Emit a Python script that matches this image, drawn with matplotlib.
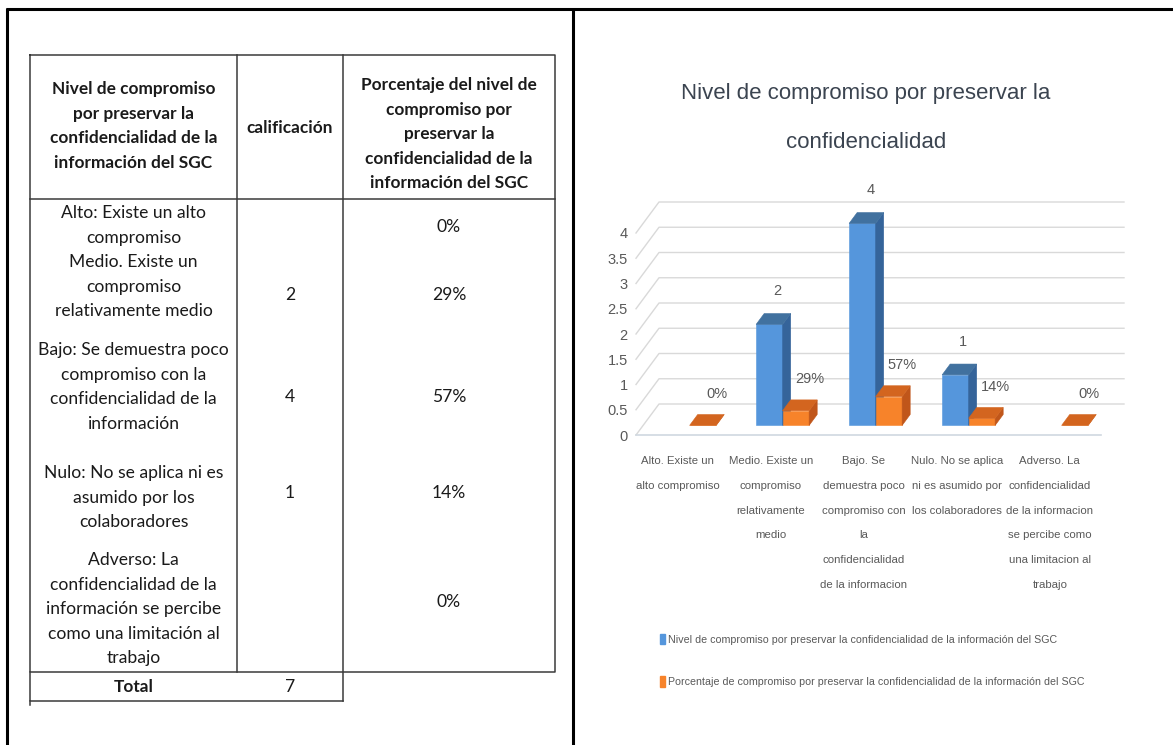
import matplotlib.pyplot as plt
from matplotlib.patches import Polygon, Patch
from matplotlib.transforms import blended_transform_factory

# ---- table contents ----
header_level = ['Nivel de compromiso', 'por preservar la',
                'confidencialidad de la', 'información del SGC']
header_score = 'calificación'
header_pct = ['Porcentaje del nivel de', 'compromiso por', 'preservar la',
              'confidencialidad de la', 'información del SGC']
levels_table = [
    ['Alto: Existe un alto', 'compromiso'],
    ['Medio. Existe un', 'compromiso', 'relativamente medio'],
    ['Bajo: Se demuestra poco', 'compromiso con la',
     'confidencialidad de la', 'información'],
    ['Nulo: No se aplica ni es', 'asumido por los', 'colaboradores'],
    ['Adverso: La', 'confidencialidad de la', 'información se percibe',
     'como una limitación al', 'trabajo'],
]
scores = [None, 2, 4, 1, None]
pct = [0.0, 0.29, 0.57, 0.14, 0.0]
total = 7

# ---- chart contents ----
title_lines = ['Nivel de compromiso por preservar la', 'confidencialidad']
categories = [
    'Alto. Existe un\nalto compromiso',
    'Medio. Existe un\ncompromiso\nrelativamente\nmedio',
    'Bajo. Se\ndemuestra poco\ncompromiso con\nla\nconfidencialidad\nde la informacion',
    'Nulo. No se aplica\nni es asumido por\nlos colaboradores',
    'Adverso. La\nconfidencialidad\nde la informacion\nse percibe como\nuna limitacion al\ntrabajo',
]
series_names = [
    'Nivel de compromiso por preservar la confidencialidad de la información del SGC',
    'Porcentaje de compromiso por preservar la confidencialidad de la información del SGC',
]
y_ticks = [0, 0.5, 1, 1.5, 2, 2.5, 3, 3.5, 4]

W, H = 1173, 745
NARROW = ['Liberation Sans', 'DejaVu Sans']
BODY = ['Lato', 'DejaVu Sans']
GREY = '#595959'

fig = plt.figure(figsize=(W / 100, H / 100), dpi=100)
fig.patch.set_facecolor('white')

# page layer in pixel units (origin top-left)
page = fig.add_axes([0, 0, 1, 1])
page.set_xlim(0, W)
page.set_ylim(H, 0)
page.axis('off')

frame = dict(color='black', lw=2.2, solid_capstyle='butt')
page.plot([6, W], [9, 9], **frame)
page.plot([7, 7], [8, H], **frame)
page.plot([573, 573], [8, H], **frame)

# table grid
tl = dict(color='#3a3a3a', lw=1.1)
t_left, t_right, t_top, t_head, t_body, t_total = 30, 555, 55, 199, 672, 701
c1, c2 = 237, 343
page.plot([t_left, t_right, t_right, t_left, t_left],
          [t_top, t_top, t_body, t_body, t_top], **tl)
page.plot([c1, c1], [t_top, t_body], **tl)
page.plot([c2, c2], [t_top, t_total], **tl)
page.plot([t_left, t_right], [t_head, t_head], **tl)
page.plot([t_left, t_left, c2], [t_body, t_total, t_total], **tl)
page.plot([t_left, t_left], [t_total, t_total + 4], **tl)

col_x = [(t_left + c1) / 2, (c1 + c2) / 2, (c2 + t_right) / 2]
step = 24.6
txt = dict(ha='center', va='center', family=BODY, fontsize=12.6, color='#1a1a1a')
bold = dict(txt, fontsize=12.4, fontweight='bold')

for k, line in enumerate(header_level):
    page.text(col_x[0], 89 + k * step, line, **bold)
page.text(col_x[1], 128, header_score, **bold)
for k, line in enumerate(header_pct):
    page.text(col_x[2], 85 + k * step, line, **bold)

level_top = [213, 262, 350, 473, 560]
value_y = [227, 295, 397, 493, 602]
for lines, y0, yv, s, p in zip(levels_table, level_top, value_y, scores, pct):
    for k, line in enumerate(lines):
        page.text(col_x[0], y0 + k * step, line, **txt)
    if s is not None:
        page.text(col_x[1], yv, f'{s}', **txt)
    page.text(col_x[2], yv, f'{round(p * 100)}%', **txt)

page.text(col_x[0], 687, 'Total', **bold)
page.text(col_x[1], 687, f'{total}', **txt)

# ---- 3D-look clustered column chart ----
X0, Y0 = 636, 435          # pixel position of data origin on the front plane
SX, SY = 93, 50.5          # pixels per category / per unit
xlim, ylim = (-0.7, 5.6), (-0.5, 5.2)
left, right = X0 + xlim[0] * SX, X0 + xlim[1] * SX
top, bottom = Y0 - ylim[1] * SY, Y0 - ylim[0] * SY
ax = fig.add_axes([left / W, 1 - bottom / H, (right - left) / W, (bottom - top) / H])
ax.set_xlim(*xlim)
ax.set_ylim(*ylim)
ax.patch.set_alpha(0)

DX, DY = 23 / SX, 31 / SY   # offset of the back wall
D0, D1 = 0.31, 0.66         # depth slice occupied by the columns
BW = 0.285                  # column width in category units


def P(x, y, d):
    return (x + d * DX, y + d * DY)


n = len(categories)
grid = dict(color='#d9d9d9', lw=1.0, zorder=1)
for v in y_ticks:
    pts = [P(0, v, 0), P(0, v, 1), P(n, v, 1)]
    ax.plot([p[0] for p in pts], [p[1] for p in pts], **grid)
ax.plot([P(0, 0, 0)[0], P(n, 0, 0)[0]], [0, 0], color='#d0d8e0', lw=1.2, zorder=1)


def column(x0, x1, h, front, side, topc):
    faces = [
        ([P(x0, 0, D0), P(x1, 0, D0), P(x1, h, D0), P(x0, h, D0)], front),
        ([P(x1, 0, D0), P(x1, 0, D1), P(x1, h, D1), P(x1, h, D0)], side),
        ([P(x0, h, D0), P(x1, h, D0), P(x1, h, D1), P(x0, h, D1)], topc),
    ]
    for pts, c in faces:
        ax.add_patch(Polygon(pts, closed=True, facecolor=c, edgecolor=c,
                             lw=0.4, zorder=3))


blue = ('#5596dc', '#35649a', '#41719f')
orange = ('#f7832a', '#c0561a', '#d3651f')
lab = dict(ha='center', va='center', family=NARROW, fontsize=10.5, color=GREY)

for i, (s, p) in enumerate(zip(scores, pct)):
    cx = i + 0.5
    if s is not None:
        column(cx - BW, cx, s, *blue)
        ax.annotate(f'{s}', P(cx - BW / 2, s, D1), xytext=(0, 16),
                    textcoords='offset points', zorder=5, **lab)
    column(cx, cx + BW, p, *orange)
    ax.annotate(f'{round(p * 100)}%', P(cx + BW / 2, p, D1), xytext=(4, 15),
                textcoords='offset points', zorder=5, **lab)

# value axis labels sit on the front edge of the side wall
ax.set_yticks(y_ticks, [f'{v:g}' for v in y_ticks])
ax.set_xticks([])
for side in ['top', 'right', 'bottom']:
    ax.spines[side].set_visible(False)
ax.spines['left'].set_position(('data', -0.075))
ax.spines['left'].set_visible(False)
ax.tick_params(axis='y', length=0, pad=1, labelcolor=GREY, labelsize=10.5)
for t in ax.get_yticklabels():
    t.set_family(NARROW)

# category labels under the floor
cat_tr = blended_transform_factory(ax.transData, fig.transFigure)
for i, name in enumerate(categories):
    ax.text(i + 0.45, 1 - 456 / H, name, transform=cat_tr, ha='center', va='top',
            family=NARROW, fontsize=8.2, color=GREY, linespacing=2.85)

for y, line in zip([93, 143], title_lines):
    fig.text(866 / W, 1 - y / H, line, ha='center', va='center',
             family=NARROW, fontsize=16, color='#3b4450')

handles = [Patch(facecolor=blue[0], edgecolor=blue[0]),
           Patch(facecolor=orange[0], edgecolor=orange[0])]
fig.legend(handles, series_names, loc='upper left',
           bbox_to_anchor=(660 / W, 1 - 634 / H), frameon=False,
           prop={'family': NARROW, 'size': 7.7}, labelcolor=GREY,
           handlelength=0.5, handleheight=1.1, handletextpad=0.25,
           labelspacing=2.95, borderpad=0, borderaxespad=0)

fig.savefig('out.png', dpi=100, facecolor='white')
